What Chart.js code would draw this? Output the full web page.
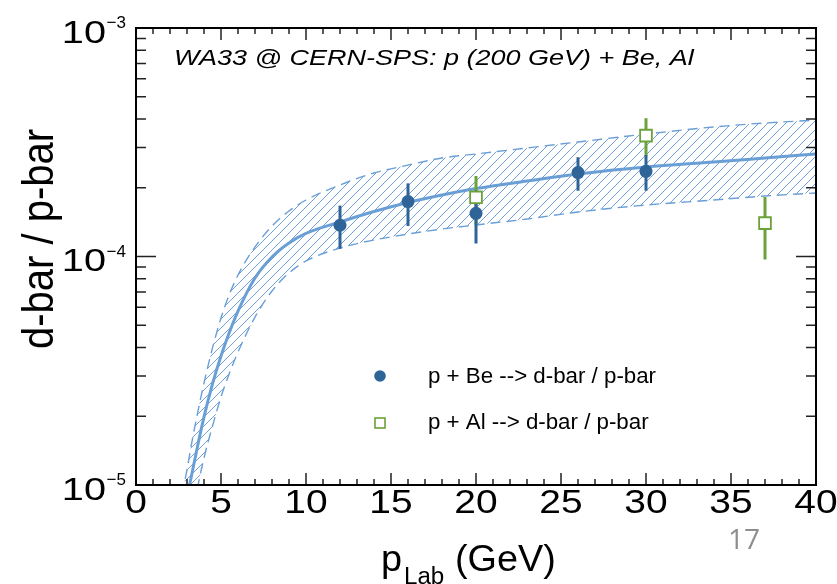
<!DOCTYPE html>
<html><head><meta charset="utf-8">
<script src="https://cdn.jsdelivr.net/npm/chart.js@4.4.0/dist/chart.umd.min.js"></script>
<style>html,body{margin:0;padding:0;background:#fff;overflow:hidden}</style>
</head><body>
<canvas id="c" width="837" height="584" style="width:837px;height:584px;display:block"></canvas>
<script>
// ---- data ----
const fitX       = [2.7, 3.0, 3.2, 3.6, 4.0, 4.5, 5.0, 5.5, 6.0, 7, 8, 9, 10, 12, 14, 16, 18, 20, 23, 26, 30, 34, 37, 40];
const fitCentral = [5.0e-6, 8.77e-6, 1.041e-5, 1.452e-5, 1.985e-5, 2.77e-5, 3.67e-5, 4.67e-5, 5.77e-5, 8.05e-5, 9.95e-5, 1.146e-4, 1.261e-4, 1.416e-4, 1.574e-4, 1.723e-4, 1.858e-4, 1.984e-4, 2.140e-4, 2.296e-4, 2.464e-4, 2.592e-4, 2.698e-4, 2.809e-4];
const fitUpper   = [9.1e-6, 1.164e-5, 1.422e-5, 2.024e-5, 2.794e-5, 3.98e-5, 5.38e-5, 6.85e-5, 8.30e-5, 1.101e-4, 1.359e-4, 1.581e-4, 1.767e-4, 2.056e-4, 2.319e-4, 2.512e-4, 2.698e-4, 2.81e-4, 2.985e-4, 3.17e-4, 3.435e-4, 3.69e-4, 3.84e-4, 3.95e-4];
const fitLower   = [3.14e-6, 4.70e-6, 6.04e-6, 9.51e-6, 1.312e-5, 1.811e-5, 2.427e-5, 3.09e-5, 3.82e-5, 5.43e-5, 7.06e-5, 8.47e-5, 9.56e-5, 1.089e-4, 1.181e-4, 1.254e-4, 1.319e-4, 1.374e-4, 1.459e-4, 1.566e-4, 1.680e-4, 1.767e-4, 1.840e-4, 1.896e-4];

const beX    = [12, 16, 20, 26, 30];
const beY    = [1.37e-4, 1.74e-4, 1.545e-4, 2.33e-4, 2.36e-4];
const beLow  = [1.08e-4, 1.36e-4, 1.14e-4, 1.94e-4, 1.94e-4];
const beHigh = [1.67e-4, 2.09e-4, 1.95e-4, 2.72e-4, 2.78e-4];

const alX    = [20, 30, 37];
const alY    = [1.815e-4, 3.38e-4, 1.40e-4];
const alLow  = [1.38e-4, 2.75e-4, 0.97e-4];
const alHigh = [2.25e-4, 4.03e-4, 1.82e-4];

const xTickLabels = ['0','5','10','15','20','25','30','35','40'];
const xTickValues = [0, 5, 10, 15, 20, 25, 30, 35, 40];
const yTickValues = [1e-5, 1e-4, 1e-3];
const yTickExp    = ['\u22125', '\u22124', '\u22123'];

const titleText = 'WA33 @ CERN-SPS: p (200 GeV) + Be, Al';
const legendBe = 'p + Be --> d-bar / p-bar';
const legendAl = 'p + Al --> d-bar / p-bar';
const yTitle = 'd-bar / p-bar';
const pageNumber = '17';

// ---- styles ----
const BLUE = '#2f6499';
const LINEBLUE = '#6a9fd6';
const HATCH = '#6196d8';
const GREEN = '#6ba23a';
const FONT = '"Liberation Sans", Arial, Helvetica, sans-serif';

function pts(xs, ys) { return xs.map((x, i) => ({x: x, y: ys[i]})); }

const pc = document.createElement('canvas');
pc.width = 9; pc.height = 9;
const pcx = pc.getContext('2d');
pcx.strokeStyle = HATCH; pcx.lineWidth = 0.9;
pcx.beginPath();
pcx.moveTo(-1, 10); pcx.lineTo(10, -1);
pcx.moveTo(-2, 2); pcx.lineTo(2, -2);
pcx.moveTo(7, 11); pcx.lineTo(11, 7);
pcx.stroke();
const hatch = pcx.createPattern(pc, 'repeat');

function stext(ctx, txt, x, y, font, sx, align) {
  ctx.save();
  ctx.font = font;
  ctx.translate(x, y);
  ctx.scale(sx, 1);
  ctx.textAlign = align;
  ctx.textBaseline = 'alphabetic';
  ctx.fillText(txt, 0, 0);
  ctx.restore();
}

function drawBars(ctx, xs, lo, hi, color, sc) {
  ctx.save();
  ctx.strokeStyle = color; ctx.lineWidth = 3; ctx.lineCap = 'butt';
  xs.forEach((x, i) => {
    const px = sc.x.getPixelForValue(x);
    ctx.beginPath();
    ctx.moveTo(px, sc.y.getPixelForValue(lo[i]));
    ctx.lineTo(px, sc.y.getPixelForValue(hi[i]));
    ctx.stroke();
  });
  ctx.restore();
}

const errPlugin = {
  id: 'errbars',
  beforeDatasetDraw(chart, args) {
    if (args.index !== 1) return;
    const ctx = chart.ctx, ca = chart.chartArea;
    ctx.save();
    ctx.beginPath(); ctx.rect(ca.left, ca.top, ca.right - ca.left, ca.bottom - ca.top); ctx.clip();
    drawBars(ctx, alX, alLow, alHigh, GREEN, chart.scales);
    drawBars(ctx, beX, beLow, beHigh, BLUE, chart.scales);
    ctx.restore();
  }
};

const framePlugin = {
  id: 'frame',
  afterDraw(chart) {
    const ctx = chart.ctx, ca = chart.chartArea, sx = chart.scales.x, sy = chart.scales.y;
    ctx.save();
    // ticks
    ctx.strokeStyle = '#222'; ctx.lineWidth = 1.5;
    ctx.beginPath();
    for (let v = 0; v <= 40; v++) {
      const px = sx.getPixelForValue(v);
      const L = (v % 5 === 0) ? 12 : 6;
      ctx.moveTo(px, ca.bottom); ctx.lineTo(px, ca.bottom - L);
      ctx.moveTo(px, ca.top); ctx.lineTo(px, ca.top + L);
    }
    for (let e = -5; e <= -3; e++) {
      for (let m = 1; m <= 9; m++) {
        const v = m * Math.pow(10, e);
        if (v > 1.0001e-3) break;
        const py = sy.getPixelForValue(v);
        const L = (m === 1) ? 20 : 10;
        ctx.moveTo(ca.left, py); ctx.lineTo(ca.left + L, py);
        ctx.moveTo(ca.right, py); ctx.lineTo(ca.right - L, py);
      }
    }
    ctx.stroke();
    // frame
    ctx.strokeStyle = '#000'; ctx.lineWidth = 2;
    ctx.strokeRect(ca.left, ca.top, ca.right - ca.left, ca.bottom - ca.top);

    ctx.fillStyle = '#000';
    // x tick labels
    xTickValues.forEach((v, i) => {
      stext(ctx, xTickLabels[i], sx.getPixelForValue(v), ca.bottom + 28, '33px ' + FONT, 1.18, 'center');
    });
    // y tick labels
    yTickValues.forEach((v, i) => {
      const py = sy.getPixelForValue(v);
      ctx.save();
      ctx.font = '17px ' + FONT; ctx.textAlign = 'right'; ctx.textBaseline = 'alphabetic';
      ctx.fillText(yTickExp[i], ca.left - 10, py);
      ctx.restore();
      stext(ctx, '10', ca.left - 30, py + 14.7, '31px ' + FONT, 1.28, 'right');
    });
    // axis titles
    const xt = 381;
    stext(ctx, 'p', xt, 571, '36px ' + FONT, 1.05, 'left');
    stext(ctx, 'Lab', xt + 23, 584, '23px ' + FONT, 1.05, 'left');
    stext(ctx, '(GeV)', xt + 74, 571, '36px ' + FONT, 1.05, 'left');
    ctx.save();
    ctx.translate(53, 239); ctx.scale(1.1, 1); ctx.rotate(-Math.PI / 2);
    ctx.font = '40px ' + FONT; ctx.textAlign = 'center'; ctx.textBaseline = 'alphabetic';
    ctx.fillText(yTitle, 0, 0);
    ctx.restore();
    // title
    stext(ctx, titleText, 174, 65, 'italic 22.5px ' + FONT, 1.2, 'left');
    // legend
    ctx.fillStyle = BLUE;
    ctx.beginPath(); ctx.arc(380, 376, 5.8, 0, Math.PI * 2); ctx.fill();
    ctx.fillStyle = '#fff'; ctx.strokeStyle = GREEN; ctx.lineWidth = 1.6;
    ctx.fillRect(375, 418, 10, 10); ctx.strokeRect(375, 418, 10, 10);
    ctx.fillStyle = '#000';
    ctx.font = '22.3px ' + FONT; ctx.textAlign = 'left'; ctx.textBaseline = 'middle';
    ctx.fillText(legendBe, 428, 377);
    ctx.fillText(legendAl, 428, 423);
    // page number
    ctx.fillStyle = '#8e8e8e';
    ctx.font = '28px "Open Sans", ' + FONT; ctx.textAlign = 'left'; ctx.textBaseline = 'alphabetic';
    ctx.fillText(pageNumber, 728, 549);
    ctx.restore();
  }
};

new Chart(document.getElementById('c'), {
  type: 'scatter',
  data: {
    datasets: [
      { label: 'p + Al', data: pts(alX, alY), pointStyle: 'rect', pointRadius: 8.3, pointHoverRadius: 8.3,
        backgroundColor: '#fff', borderColor: GREEN, borderWidth: 1.8, showLine: false },
      { label: 'p + Be', data: pts(beX, beY), pointStyle: 'circle', pointRadius: 6.5, pointHoverRadius: 6.5,
        backgroundColor: BLUE, borderColor: BLUE, borderWidth: 0, showLine: false },
      { label: 'fit', data: pts(fitX, fitCentral), showLine: true, borderColor: LINEBLUE, borderWidth: 3,
        pointRadius: 0, fill: false, cubicInterpolationMode: 'monotone' },
      { label: 'upper', data: pts(fitX, fitUpper), showLine: true, borderColor: LINEBLUE, borderWidth: 1.4,
        borderDash: [10, 6], pointRadius: 0, fill: false, cubicInterpolationMode: 'monotone' },
      { label: 'lower', data: pts(fitX, fitLower), showLine: true, borderColor: LINEBLUE, borderWidth: 1.4,
        borderDash: [10, 6], pointRadius: 0, fill: 3, backgroundColor: hatch, cubicInterpolationMode: 'monotone' }
    ]
  },
  options: {
    responsive: false, animation: false, devicePixelRatio: 1,
    layout: { padding: { left: 0, right: 21, top: 28, bottom: 0 } },
    plugins: { legend: { display: false }, tooltip: { enabled: false }, title: { display: false } },
    scales: {
      x: { type: 'linear', min: 0, max: 40, ticks: { display: false }, grid: { display: false }, border: { display: false },
           afterFit: (s) => { s.height = 99; } },
      y: { type: 'logarithmic', min: 1e-5, max: 1e-3, ticks: { display: false }, grid: { display: false }, border: { display: false },
           afterFit: (s) => { s.width = 136; } }
    }
  },
  plugins: [errPlugin, framePlugin]
});
</script>
</body></html>
